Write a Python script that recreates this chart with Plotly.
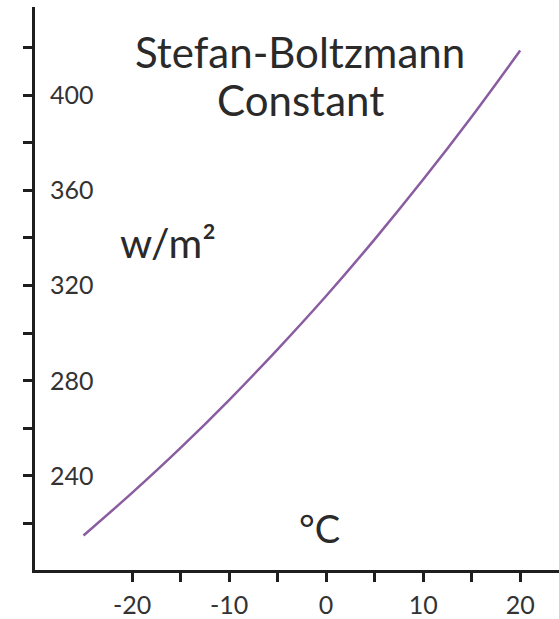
import plotly.graph_objects as go

# Temperature (°C) and blackbody emission (W/m²)
temp_c = [-25, -20, -15, -10, -5, 0, 5, 10, 15, 20]
flux_wm2 = [215.0, 232.9, 251.8, 271.9, 293.2, 315.6, 339.4, 364.5, 390.9, 418.7]

y_tick_vals = [240, 280, 320, 360, 400]
x_tick_vals = [-20, -10, 0, 10, 20]

FONT = "Lato, 'Open Sans', sans-serif"
AXIS_COLOR = "#1e1e1e"
TEXT_COLOR = "#2a2a2a"
TICK_TEXT = "#333333"

fig = go.Figure()
fig.add_trace(go.Scatter(
    x=temp_c, y=flux_wm2, mode="lines",
    line=dict(color="#8a5ca0", width=2.5, shape="spline"),
    hoverinfo="skip", showlegend=False,
))

fig.update_layout(
    width=559, height=619,
    margin=dict(l=35, r=0, t=7, b=47),
    paper_bgcolor="white", plot_bgcolor="white",
    font=dict(family=FONT, color=TEXT_COLOR),
    xaxis=dict(
        range=[-30, 24], showgrid=False, zeroline=False,
        showline=True, linecolor=AXIS_COLOR, linewidth=3,
        ticks="outside", ticklen=9, tickwidth=2.5, tickcolor=AXIS_COLOR,
        tickvals=x_tick_vals, ticktext=[str(v) for v in x_tick_vals],
        ticklabelstandoff=2,
        tickfont=dict(size=25, color=TICK_TEXT, family=FONT),
        minor=dict(dtick=5, tick0=0, ticks="outside", ticklen=9,
                   tickwidth=2.5, tickcolor=AXIS_COLOR, showgrid=False),
    ),
    yaxis=dict(
        range=[200.5, 437], showgrid=False, zeroline=False,
        showline=True, linecolor=AXIS_COLOR, linewidth=3,
        ticks="outside", ticklen=9, tickwidth=2.5, tickcolor=AXIS_COLOR,
        tickvals=y_tick_vals, ticktext=[str(v) for v in y_tick_vals],
        ticklabelposition="inside", ticklabelstandoff=17,
        tickfont=dict(size=25, color=TICK_TEXT, family=FONT),
        minor=dict(dtick=20, tick0=200, ticks="outside", ticklen=9,
                   tickwidth=2.5, tickcolor=AXIS_COLOR, showgrid=False),
    ),
)

# Free-floating labels, placed in pixels and converted to paper coordinates
labels = [
    ("Stefan-Boltzmann", 300, 52, 42),
    ("Constant", 300, 100, 42),
    ("w/m²", 168, 243, 41),
    ("°C", 319, 530, 38),
]
pw, ph = 559 - 35 - 0, 619 - 7 - 47
for text, px, py, size in labels:
    fig.add_annotation(
        x=(px - 35) / pw, y=1 - (py - 7) / ph, xref="paper", yref="paper",
        xanchor="center", yanchor="middle", text=text, showarrow=False,
        font=dict(size=size, family=FONT, color=TEXT_COLOR),
    )

fig.write_html("out.html")
